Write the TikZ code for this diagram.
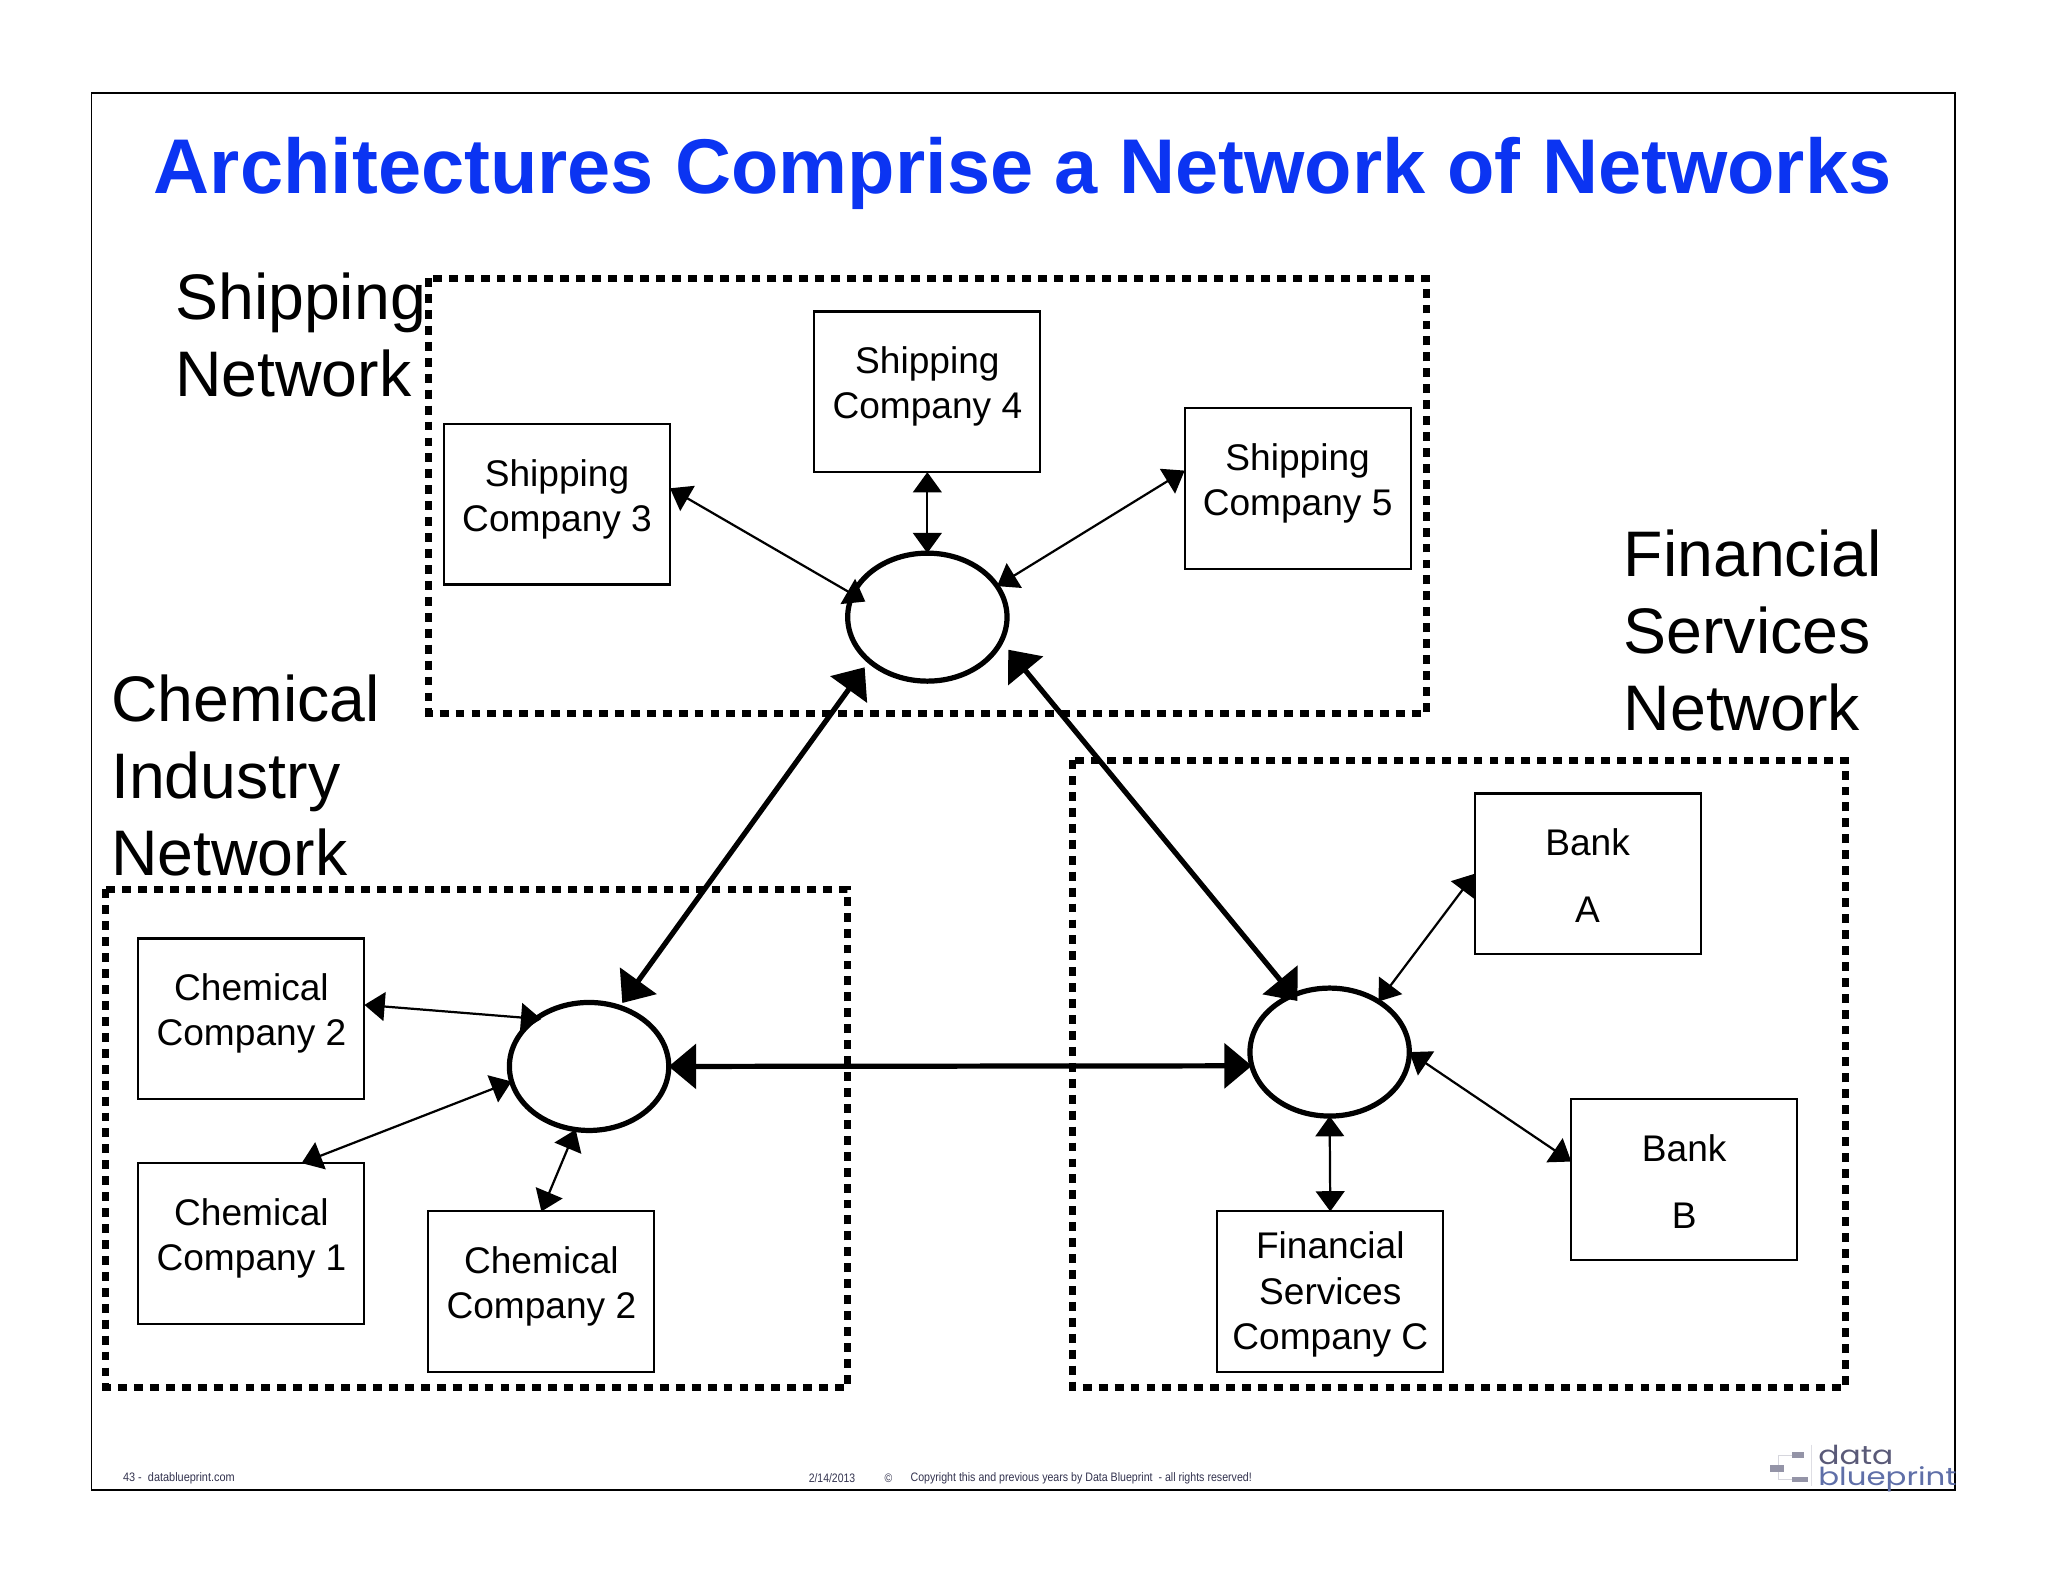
\documentclass[tikz,border=0pt]{standalone}
\usepackage{fontspec}
\setmainfont{Liberation Sans}
\newfontfamily\logofont{Poppins}
\usetikzlibrary{arrows.meta,shapes.geometric}
\definecolor{titleblue}{HTML}{0B34F2}
\definecolor{footc}{HTML}{33334F}
\definecolor{logoa}{HTML}{5A5A78}
\definecolor{logob}{HTML}{5F6FA8}
\newcommand{\boxtxt}[2][0pt]{\begin{tabular}{@{}c@{}}#2\\[#1]\end{tabular}}
\tikzset{
  x=1pt,y=-1pt,
  frame/.style={draw=black,line width=1.4pt},
  netarea/.style={draw=black,line width=5.4pt,dash pattern=on 6.8pt off 5.4pt},
  co/.style={draw=black,line width=1.6pt,minimum width=173pt,minimum height=123pt,inner sep=0pt,outer sep=0pt,font=\fontsize{28.4}{34.5}\selectfont},
  hub/.style={draw=black,ellipse,line width=4pt,minimum width=122pt,minimum height=98pt,inner sep=0pt,outer sep=0pt},
  thin link/.style={draw=black,line width=1.7pt,{Triangle[length=15.5pt,width=22pt]}-{Triangle[length=15.5pt,width=22pt]}},
  thick link/.style={draw=black,line width=4pt,{Triangle[length=21pt,width=34pt]}-{Triangle[length=21pt,width=34pt]}},
  netlabel/.style={anchor=north west,inner sep=0pt,align=left,font=\fontsize{49.3}{59}\selectfont},
  foot/.style={inner sep=0pt,text=footc,font=\fontsize{9.4}{11}\selectfont},
}
\begin{document}
\begin{tikzpicture}
\useasboundingbox[fill=white] (0,0) rectangle (1568,1211.2);
\draw[frame] (70,71) rectangle (1497,1141);
\node[inner sep=0pt,text=titleblue,font=\fontsize{59.4}{70}\selectfont\bfseries] (title) at (783,133) {Architectures Comprise a Network of Networks};

\draw[netarea] (328,213) rectangle (1092,546);
\draw[netarea] (81,681) rectangle (649,1062);
\draw[netarea] (821,582) rectangle (1413,1062);

\node[netlabel] (lship) at (134,209) {Shipping\\Network};
\node[netlabel] (lchem) at (85,516.5) {Chemical\\Industry\\Network};
\node[netlabel] (lfin) at (1243,405.5) {Financial\\Services\\Network};

\node[hub] (hubS) at (710,472.5) {};
\node[hub] (hubC) at (451,816.5) {};
\node[hub] (hubF) at (1018,805.5) {};

\node[co] (s3) at (426.5,386) {\boxtxt[7pt]{Shipping\\Company 3}};
\node[co] (s4) at (710,300) {\boxtxt[7pt]{Shipping\\Company 4}};
\node[co] (s5) at (993.5,374) {\boxtxt[7pt]{Shipping\\Company 5}};
\node[co] (c2a) at (192.5,780) {\boxtxt[7pt]{Chemical\\Company 2}};
\node[co] (c1) at (192.5,952) {\boxtxt[7pt]{Chemical\\Company 1}};
\node[co] (c2b) at (414.5,989) {\boxtxt[7pt]{Chemical\\Company 2}};
\node[co] (ba) at (1215.5,669) {\boxtxt[-10pt]{Bank\\[17pt]A}};
\node[co] (bb) at (1289.5,903) {\boxtxt[-10pt]{Bank\\[17pt]B}};
\node[co] (fc) at (1018.5,989) {\boxtxt[-5pt]{Financial\\Services\\Company C}};

\draw[thin link,shorten >=-11pt] (s3.8.5) -- (hubS.163.9);
\draw[thin link] (s4.south) -- (hubS.north);
\draw[thin link] (s5.171.8) -- (hubS.24.7);
\draw[thin link,shorten >=-4pt] (c2a.7.5) -- (hubC.138.4);
\draw[thin link] (c1.58) -- (hubC.191);
\draw[thin link] (c2b.north) -- (hubC.258.5);
\draw[thin link] (ba.west) -- (hubF.46.5);
\draw[thin link] (bb.171.8) -- (hubF.east);
\draw[thin link] (fc.north) -- (hubF.south);

\draw[thick link,shorten <=4pt,shorten >=6pt] (hubC.63.7) -- (hubS.217);
\draw[thick link,shorten <=8.5pt,shorten >=-5.6pt] (hubS.342) -- (hubF.123.4);
\draw[thick link] (hubC.east) -- (hubF.190.8);

\node[foot,anchor=west] (f1) at (94,1131.5) {\scalebox{.89}[1]{43 -\ \ databl\-ueprint.com}};
\node[foot,anchor=west] (f2) at (619,1131.5) {\scalebox{.85}[1]{2/14/2013}};
\node[foot,anchor=west] (f3) at (677,1131.5) {\scalebox{.85}[1]{©}};
\node[foot,anchor=west] (f4) at (697,1131.5) {\scalebox{.865}[1]{Copyright this and previous years by Data Blueprint\ \ - all rights reserved!}};

\fill[logoa!65] (1372,1112) rectangle (1381,1116);
\fill[logoa!65] (1355,1122) rectangle (1366,1127);
\fill[logoa!65] (1372,1131) rectangle (1384,1135);
\draw[logoa!25,line width=.8pt] (1372,1114) -- (1362,1114) -- (1362,1122) (1362,1127) -- (1362,1133) -- (1372,1133);
\draw[logoa!20,line width=.8pt] (1387,1106) -- (1387,1138);
\node[inner sep=0pt,anchor=base west,text=logoa,font=\logofont\fontsize{20}{20}\selectfont] (logo1) at (1392,1121.5) {\scalebox{1.2}[1]{data}};
\node[inner sep=0pt,anchor=base west,text=logob,font=\logofont\fontsize{20}{20}\selectfont] (logo2) at (1392,1137) {\scalebox{1.18}[.95]{blueprint}};
\end{tikzpicture}
\end{document}
